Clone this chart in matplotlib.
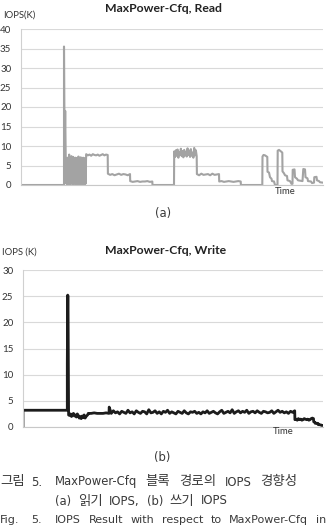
import numpy as np
import matplotlib
matplotlib.use("Agg")
import matplotlib.pyplot as plt

plt.rcParams["font.family"] = ["Lato", "DejaVu Sans"]

W, H = 327, 530

# ---------------- Read IOPS (K), time in chart units (0..302) ----------------
read_base_t = [0, 43, 43, 43.6, 44.2, 44.8]
read_base_v = [0, 0, 35.5, 7.0, 19.0, 6.0]

# dense burst right after the spike (t 45..65)
read_burst = [0.5, 6.8, 0.3, 6.2, 0.8, 7.0, 0.2, 6.5, 1.0, 6.9, 0.4, 7.8, 0.6, 6.3,
              0.2, 7.1, 0.9, 6.6, 0.3, 7.4, 0.5, 6.1, 0.7, 6.8, 0.2, 7.2, 0.4, 6.5,
              0.8, 6.9, 0.3, 6.4, 0.6, 7.0, 0.2, 6.7, 0.5, 6.2, 0.4, 6.9, 0.3, 6.6,
              0.1, 7.3, 0.6, 6.4, 0.2, 6.9, 0.5, 6.3, 0.3, 7.1, 0.7, 6.5, 0.2, 6.8,
              0.4, 6.2, 0.6, 7.0, 0.3, 6.6, 0.2, 6.4, 0.5, 6.9, 0.3, 6.7, 0.4, 6.3]
read_hi1 = [7.9, 7.6, 7.8, 7.5, 7.9, 7.7, 7.6, 7.8, 7.5, 7.7, 7.9, 7.6, 7.8, 7.7]
read_mid1 = [2.9, 2.6, 2.8, 2.5, 2.7, 2.9, 2.6, 2.8, 2.7, 2.5, 2.8]
read_low1 = [1.0, 0.8, 0.9, 1.0, 0.8, 0.9, 0.9, 1.0, 0.8, 0.9]
read_hi2 = [8.6, 7.2, 8.9, 7.5, 9.1, 7.0, 8.4, 7.8, 9.3, 7.4, 8.7, 7.1, 9.0, 7.6,
            8.5, 7.3, 9.4, 7.7, 8.8, 7.2, 9.2, 7.5, 8.3, 7.0, 9.5, 7.6, 8.9, 7.4]
read_mid2 = [2.8, 2.5, 2.9, 2.6, 2.7, 2.8, 2.5, 2.9, 2.6, 2.7, 2.8]
read_low2 = [0.9, 1.0, 0.8, 0.9, 1.0, 0.9, 0.8, 0.9, 1.0, 0.9]

# blocks: (start, end, values)
read_blocks = [(45.0, 65.0, read_burst), (65.2, 86.7, read_hi1), (86.9, 109.0, read_mid1),
               (109.2, 131.3, read_low1), (131.5, 153.0, [0, 0]), (153.2, 175.7, read_hi2),
               (175.9, 198.0, read_mid2), (198.2, 219.7, read_low2), (219.9, 241.3, [0, 0])]

read_tail_t = [241.5, 242.5, 244, 246.3, 246.5, 248, 249, 250.5, 251, 253, 254, 256.5,
               256.7, 258, 260, 261.3, 261.5, 263, 264, 266, 266.5, 269, 270.5, 271.5,
               271.7, 273.5, 274, 276, 277, 281.5, 282.3, 284, 284.5, 286.5, 287, 290,
               291, 293, 293.3, 295.5, 296, 298, 299, 302]
read_tail_v = [7.3, 7.7, 7.6, 7.2, 3.4, 3.2, 2.0, 1.6, 1.0, 0.9, 0.0, 0.0,
               8.8, 9.0, 8.6, 8.3, 3.5, 3.0, 2.5, 2.3, 1.2, 1.0, 0.3, 0.3,
               3.9, 4.0, 2.0, 1.6, 1.2, 1.0, 4.1, 4.0, 2.0, 1.7, 1.0, 0.9,
               0.5, 0.6, 2.0, 2.1, 1.2, 1.0, 0.7, 0.6]

# ---------------- Write IOPS (K), time in chart units (0..300) ----------------
write_base_t = [0, 0, 44.3, 44.3, 44.5, 44.7, 45.0, 45.3]
write_base_v = [0, 3.2, 3.2, 12.0, 19.0, 25.2, 25.0, 12.0]

write_dip = [2.3, 2.2, 2.5, 2.0, 2.4, 2.6, 2.1, 2.3, 1.9, 2.5, 2.2, 1.7, 2.0, 1.6,
             2.1, 1.8, 2.3, 1.7, 2.0, 2.2, 2.4]
write_flat = [2.6, 2.6, 2.7, 2.6, 2.6, 2.6, 2.7, 2.6]
write_main = [3.8, 2.6, 3.1, 2.7, 2.9, 2.5, 3.0, 2.8, 2.6, 3.2, 2.7, 2.9, 2.5, 3.1,
              2.8, 2.6, 3.0, 2.9, 2.5, 3.3, 2.7, 2.8, 3.1, 2.6, 2.9, 2.5, 3.0, 2.8,
              3.2, 2.6, 2.9, 2.7, 2.5, 3.0, 2.8, 2.6, 3.1, 2.7, 2.5, 2.9, 2.8, 3.0,
              2.6, 2.8, 2.5, 2.9, 2.7, 3.1, 2.6, 2.8, 3.0, 2.7, 2.5, 2.9, 3.2, 2.6,
              2.8, 3.0, 2.7, 3.3, 2.6, 2.9, 3.1, 2.7, 3.0, 2.8, 3.2, 2.6, 2.9, 3.0,
              2.7, 3.1, 2.8, 2.6, 3.0, 2.9, 2.7, 2.8, 3.1, 2.6, 2.9, 3.2, 2.8, 3.0,
              2.7, 2.9, 2.6, 3.0, 2.8, 3.1]
write_low = [1.4, 1.5, 1.3, 1.6, 1.4, 1.5, 1.3, 1.4, 1.6, 1.5, 1.4, 1.5, 1.3, 1.4,
             1.6, 1.7, 1.6]

write_blocks = [(45.6, 65.0, write_dip), (65.2, 86.0, write_flat),
                (86.2, 271.7, write_main), (271.9, 290.5, write_low)]

write_tail_t = [290.7, 292, 292.2, 295, 295.2, 298, 298.5, 300]
write_tail_v = [1.0, 0.9, 0.7, 0.7, 0.45, 0.4, 0.3, 0.3]

caption_1 = ["MaxPower-Cfq", "블록", "경로의", "IOPS", "경향성"]
caption_2 = ["(a)", "읽기", "IOPS,", "(b)", "쓰기", "IOPS"]
caption_3 = ["IOPS", "Result", "with", "respect", "to", "MaxPower-Cfq", "in"]


def assemble(base_t, base_v, blocks, tail_t, tail_v):
    t, v = list(base_t), list(base_v)
    for start, end, vals in blocks:
        t += list(np.linspace(start, end, len(vals)))
        v += list(vals)
    t += list(tail_t)
    v += list(tail_v)
    return t, v


read_t, read_v = assemble(read_base_t, read_base_v, read_blocks, read_tail_t, read_tail_v)
write_t, write_v = assemble(write_base_t, write_base_v, write_blocks, write_tail_t, write_tail_v)

fig = plt.figure(figsize=(W / 100, H / 100), dpi=100)


def fx(x):
    return x / W


def fy(y):
    return 1 - y / H


def axes_px(left, right, top, bottom):
    return fig.add_axes([fx(left), fy(bottom), fx(right - left), (bottom - top) / H])


def style(ax, ymax, xmax):
    ax.set_ylim(0, ymax)
    ax.set_xlim(0, xmax)
    ax.set_yticks(np.arange(0, ymax + 1, 5))
    ax.set_xticks([])
    ax.grid(axis="y", color="#d9d9d9", lw=0.8)
    ax.set_axisbelow(True)
    ax.tick_params(length=0, pad=7, labelsize=7, labelcolor="#333333")
    for s in ("top", "right"):
        ax.spines[s].set_visible(False)
    ax.spines["left"].set_color("#d0d0d0")
    ax.spines["bottom"].set_color("#c8c8c8")


ax1 = axes_px(21, 323, 29, 185)
style(ax1, 40, 302)
ax1.plot(read_t, read_v, color="#a3a3a3", lw=1.5)

ax2 = axes_px(23, 323, 270, 427)
style(ax2, 30, 300)
ax2.plot(write_t, write_v, color="#1c1c1c", lw=2.0)

# chart texts
fig.text(fx(163.5), fy(9), "MaxPower-Cfq, Read", ha="center", va="center",
         fontsize=8.8, fontweight="bold", color="#222222")
fig.text(fx(3), fy(15), "IOPS(K)", ha="left", va="center", fontsize=6.8, color="#333333")
fig.text(fx(285), fy(191), "Time", ha="center", va="center", fontsize=6.8, color="#333333")

fig.text(fx(165.5), fy(251), "MaxPower-Cfq, Write", ha="center", va="center",
         fontsize=8.8, fontweight="bold", color="#222222")
fig.text(fx(2), fy(252), "IOPS (K)", ha="left", va="center", fontsize=6.8, color="#333333")
fig.text(fx(283), fy(432), "Time", ha="center", va="center", fontsize=6.8, color="#333333")

# sub-figure labels and caption
cap = dict(family=["DejaVu Sans", "Noto Sans CJK KR"], color="#3a3a3a", va="center")
fig.text(fx(163), fy(213), "(a)", ha="center", fontsize=8.4, **cap)
fig.text(fx(162), fy(458), "(b)", ha="center", fontsize=8.4, **cap)

renderer = fig.canvas.get_renderer()


def word_size(w, base):
    # hangul words are set a bit larger in the scanned caption
    return base * 1.15 if any("\uac00" <= c <= "\ud7a3" for c in w) else base


def justify(words, x0, x1, y, size, gap=None):
    # spread the words evenly between x0 and x1 (justified caption line)
    texts = [fig.text(0, fy(y), w, ha="left", fontsize=word_size(w, size), **cap) for w in words]
    widths = [t.get_window_extent(renderer).width for t in texts]
    if gap is None:
        gap = (x1 - x0 - sum(widths)) / (len(words) - 1)
    x = x0
    for t, w in zip(texts, widths):
        t.set_x(fx(x))
        x += w + gap


fig.text(fx(0), fy(482), "그림", ha="left", fontsize=8.4 * 1.15, **cap)
fig.text(fx(31), fy(482), "5.", ha="left", fontsize=8.4, **cap)
justify(caption_1, 55, 297, 482, 8.4)
justify(caption_2, 55, 228, 501, 8.4)

fig.text(fx(0), fy(520), "Fig.", ha="left", fontsize=8.0, **cap)
fig.text(fx(31), fy(520), "5.", ha="left", fontsize=8.0, **cap)
justify(caption_3, 55, 326, 520, 8.0)

fig.savefig("out.png", dpi=100)
